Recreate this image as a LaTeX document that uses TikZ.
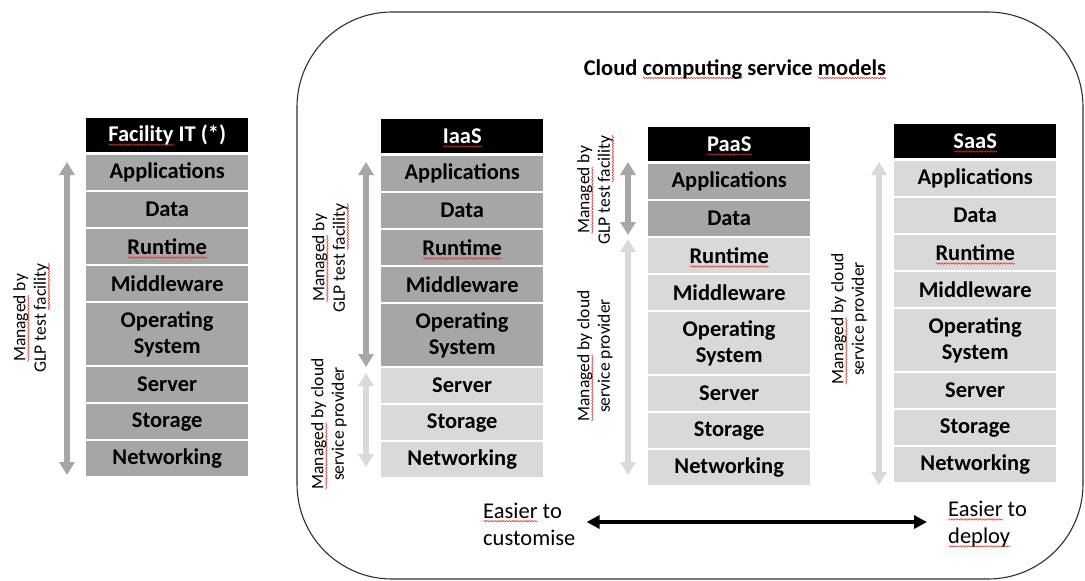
\documentclass[tikz,border=0pt]{standalone}
\usepackage{fontspec}
\setmainfont{Carlito}
\usetikzlibrary{arrows.meta,decorations.pathmorphing}

\definecolor{layerdark}{HTML}{A6A6A6}
\definecolor{layerlight}{HTML}{D9D9D9}
\definecolor{spellred}{HTML}{E0302A}
\definecolor{frameline}{HTML}{303030}

% wavy red underline under a word
\newsavebox\sqbox
\newcommand\sq[1]{\sbox\sqbox{#1}\rlap{\smash{\tikz[reset cm,baseline=0pt]\draw[spellred,line width=0.55pt,decorate,decoration={snake,amplitude=0.75pt,segment length=2.8pt}] (0pt,-3pt) -- (\wd\sqbox,-3pt);}}\usebox\sqbox}

% one stack of layers: #1 name prefix, #2 left x, #3 top y, #4 header, #5 number of dark rows
\newcommand\layerstack[5]{%
  \node[hdr] (#1h) at (#2,#3) {#4};
  \foreach \rownm/\rowoff/\rowh/\rowtxt [count=\ri] in {%
      App/37/35/Applications,
      Data/74/35/Data,
      Run/111/35/\sq{Runtime},
      Mid/148/35/Middleware,
      OS/185/62/{Operating\\System},
      Srv/249/35/Server,
      Sto/286/35/Storage,
      Net/323/35/Networking}{%
    \ifnum\ri>#5\def\lc{layerlight}\else\def\lc{layerdark}\fi
    \node[layer, fill=\lc, minimum height=\rowh pt] (#1\rownm) at (#2,#3+\rowoff) {\rowtxt};
  }%
}

\begin{document}
\begin{tikzpicture}[x=1pt,y=-1pt,
  layer/.style={anchor=north west, minimum width=162pt, inner sep=0pt, align=center,
    font=\fontsize{22.5}{26.5}\selectfont\bfseries},
  hdr/.style={layer, fill=black, text=white, minimum height=34pt},
  side/.style={rotate=90, align=center, inner sep=0pt, font=\fontsize{17.5}{20.5}\selectfont},
  darr/.style={layerdark, line width=6pt, {Triangle[width=15pt,length=13pt]}-{Triangle[width=15pt,length=13pt]}},
  larr/.style={layerlight, line width=6pt, {Triangle[width=15pt,length=13pt]}-{Triangle[width=15pt,length=13pt]}},
  bigarr/.style={black, line width=3.5pt, {Triangle[width=13pt,length=13pt]}-{Triangle[width=13pt,length=13pt]}},
  plain/.style={align=left, inner sep=0pt, font=\fontsize{22.5}{27}\selectfont}]

\useasboundingbox (0,0) rectangle (1085,581);

% cloud models frame and title
\draw[frameline, line width=1.1pt, rounded corners=95pt] (297,12) rectangle (1083,579);
\node[font=\fontsize{22.5}{26}\selectfont\bfseries] (title) at (735,69) {Cloud \sq{computing} service \sq{models}};

% the four stacks
\layerstack{f}{86}{118}{\sq{Facility} IT (*)}{8}
\layerstack{i}{381}{119}{\sq{IaaS}}{5}
\layerstack{p}{648}{127}{\sq{PaaS}}{2}
\layerstack{s}{894}{124}{\sq{SaaS}}{0}

% arrow end points
\coordinate (fT) at (67,162);  \coordinate (fB) at (67,475);
\coordinate (iT) at (366,162); \coordinate (iM) at (366,367);
\coordinate (iN) at (366,373); \coordinate (iB) at (366,467);
\coordinate (pT) at (628,162); \coordinate (pM) at (628,235);
\coordinate (pN) at (628,239); \coordinate (pB) at (628,475);
\coordinate (sT) at (879,162); \coordinate (sB) at (879,485);

\draw[darr] (fT) -- (fB);
\draw[darr] (iT) -- (iM);
\draw[larr] (iN) -- (iB);
\draw[darr] (pT) -- (pM);
\draw[larr] (pN) -- (pB);
\draw[larr] (sT) -- (sB);

% responsibility labels
\node[side] (fLab) at (31,318) {\sq{Managed} by\\GLP test \sq{facility}};
\node[side] (iLab1) at (330,258) {\sq{Managed} by\\GLP test \sq{facility}};
\node[side] (iLab2) at (329,424) {\sq{Managed} by cloud\\service provider};
\node[side] (pLab1) at (595,190) {\sq{Managed} by\\GLP test \sq{facility}};
\node[side] (pLab2) at (595,356) {\sq{Managed} by cloud\\service provider};
\node[side] (sLab) at (849,319) {\sq{Managed} by cloud\\service provider};

% customise / deploy scale
\node[plain, anchor=west] (cust) at (483,524) {\sq{Easier} to\\customise};
\node[plain, anchor=west] (depl) at (948,524) {\sq{Easier} to\\\sq{deploy}};
\draw[bigarr] ([xshift=11pt,yshift=2pt]cust.east) -- ([xshift=-21pt,yshift=2pt]depl.west);

\end{tikzpicture}
\end{document}
